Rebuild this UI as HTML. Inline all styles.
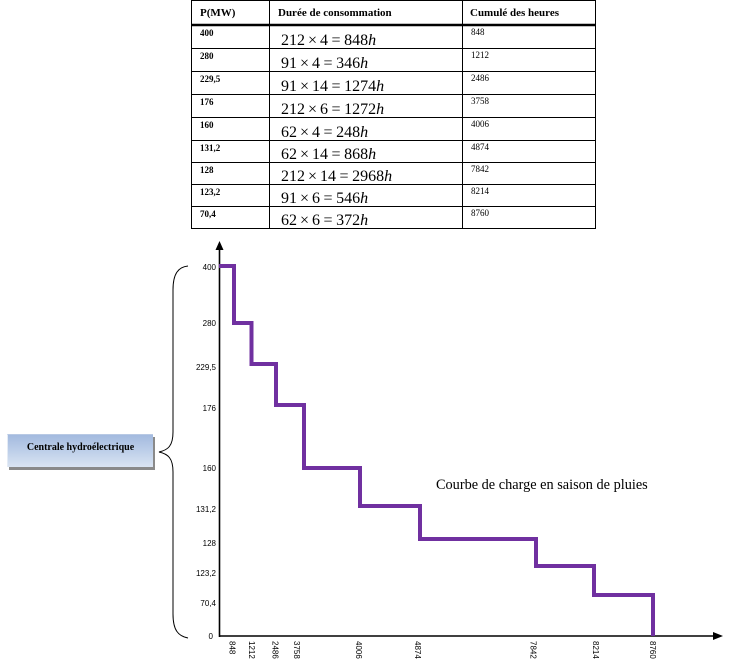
<!DOCTYPE html>
<html>
<head>
<meta charset="utf-8">
<style>
  html, body { margin:0; padding:0; background:#fff; }
  body { width:750px; height:669px; overflow:hidden; position:relative; }
  svg { position:absolute; left:0; top:0; }
  .box {
    position:absolute; left:7px; top:434px; width:146px; height:33px;
    background:linear-gradient(to bottom, #a3badf 0%, #c0d1ea 55%, #dae4f2 100%);
    border-left:1px solid #e4ebf5; border-top:1px solid #b8c9e4;
    box-shadow:2px 3px 0 #8a8a8a;
    box-sizing:border-box;
    font-family:"Liberation Serif", serif; font-weight:bold; font-size:10px;
    color:#000; text-align:center; line-height:10px; padding-top:8px;
  }
</style>
</head>
<body>
<svg width="750" height="669" viewBox="0 0 750 669" xmlns="http://www.w3.org/2000/svg">
  <!-- TABLE -->
  <g stroke="#000" fill="none">
    <rect x="191.5" y="0.5" width="404" height="228" stroke-width="1"/>
    <line x1="269.5" y1="0" x2="269.5" y2="228.5" stroke-width="1"/>
    <line x1="462.5" y1="0" x2="462.5" y2="228.5" stroke-width="1"/>
    <line x1="191" y1="25" x2="596" y2="25" stroke-width="2.5"/>
    <line x1="191" y1="48.5" x2="596" y2="48.5"/>
    <line x1="191" y1="71.5" x2="596" y2="71.5"/>
    <line x1="191" y1="94.5" x2="596" y2="94.5"/>
    <line x1="191" y1="117.5" x2="596" y2="117.5"/>
    <line x1="191" y1="140.5" x2="596" y2="140.5"/>
    <line x1="191" y1="162.5" x2="596" y2="162.5"/>
    <line x1="191" y1="184.5" x2="596" y2="184.5"/>
    <line x1="191" y1="206.5" x2="596" y2="206.5"/>
  </g>
  <g font-family="Liberation Serif, serif" font-weight="bold" font-size="11" fill="#000">
    <text x="200" y="16">P(MW)</text>
    <text x="278" y="16">Durée de consommation</text>
    <text x="470" y="16">Cumulé des heures</text>
  </g>
  <g font-family="Liberation Serif, serif" font-weight="bold" font-size="9" fill="#000">
    <text x="200" y="36">400</text>
    <text x="200" y="59">280</text>
    <text x="200" y="82">229,5</text>
    <text x="200" y="105">176</text>
    <text x="200" y="128">160</text>
    <text x="200" y="151">131,2</text>
    <text x="200" y="173">128</text>
    <text x="200" y="195">123,2</text>
    <text x="200" y="217">70,4</text>
  </g>
  <g font-family="Liberation Serif, serif" font-size="9" fill="#000">
    <text x="471" y="35">848</text>
    <text x="471" y="58">1212</text>
    <text x="471" y="81">2486</text>
    <text x="471" y="104">3758</text>
    <text x="471" y="127">4006</text>
    <text x="471" y="150">4874</text>
    <text x="471" y="172">7842</text>
    <text x="471" y="194">8214</text>
    <text x="471" y="216">8760</text>
  </g>
  <g font-family="Liberation Serif, serif" font-size="16" fill="#000">
    <text x="281" y="45">212<tspan dx="3">×</tspan><tspan dx="3">4</tspan><tspan dx="3.5">=</tspan><tspan dx="3.5">848</tspan><tspan font-style="italic">h</tspan></text>
    <text x="281" y="68">91<tspan dx="3">×</tspan><tspan dx="3">4</tspan><tspan dx="3.5">=</tspan><tspan dx="3.5">346</tspan><tspan font-style="italic">h</tspan></text>
    <text x="281" y="91">91<tspan dx="3">×</tspan><tspan dx="3">14</tspan><tspan dx="3.5">=</tspan><tspan dx="3.5">1274</tspan><tspan font-style="italic">h</tspan></text>
    <text x="281" y="114">212<tspan dx="3">×</tspan><tspan dx="3">6</tspan><tspan dx="3.5">=</tspan><tspan dx="3.5">1272</tspan><tspan font-style="italic">h</tspan></text>
    <text x="281" y="137">62<tspan dx="3">×</tspan><tspan dx="3">4</tspan><tspan dx="3.5">=</tspan><tspan dx="3.5">248</tspan><tspan font-style="italic">h</tspan></text>
    <text x="281" y="159">62<tspan dx="3">×</tspan><tspan dx="3">14</tspan><tspan dx="3.5">=</tspan><tspan dx="3.5">868</tspan><tspan font-style="italic">h</tspan></text>
    <text x="281" y="181">212<tspan dx="3">×</tspan><tspan dx="3">14</tspan><tspan dx="3.5">=</tspan><tspan dx="3.5">2968</tspan><tspan font-style="italic">h</tspan></text>
    <text x="281" y="203">91<tspan dx="3">×</tspan><tspan dx="3">6</tspan><tspan dx="3.5">=</tspan><tspan dx="3.5">546</tspan><tspan font-style="italic">h</tspan></text>
    <text x="281" y="225">62<tspan dx="3">×</tspan><tspan dx="3">6</tspan><tspan dx="3.5">=</tspan><tspan dx="3.5">372</tspan><tspan font-style="italic">h</tspan></text>
  </g>

  <!-- AXES -->
  <g stroke="#000" stroke-width="1.6" fill="none">
    <line x1="219.5" y1="637" x2="219.5" y2="247"/>
    <line x1="219" y1="636" x2="715" y2="636"/>
  </g>
  <polygon points="219.5,241 215.5,250 223.5,250" fill="#000"/>
  <polygon points="723,636 713,632 713,640" fill="#000"/>

  <!-- STEP CURVE -->
  <path d="M219,266 H234 V323 H251.5 V364 H276 V405 H304 V468 H360 V506 H420 V539 H536 V566 H594 V595 H653 V636"
        fill="none" stroke="#7030A0" stroke-width="4" stroke-linejoin="miter"/>

  <!-- Y LABELS -->
  <g font-family="Liberation Sans, sans-serif" font-size="8" fill="#000" text-anchor="end">
    <text x="216" y="270">400</text>
    <text x="216" y="326">280</text>
    <text x="216" y="370">229,5</text>
    <text x="216" y="411">176</text>
    <text x="216" y="471">160</text>
    <text x="216" y="512">131,2</text>
    <text x="216" y="546">128</text>
    <text x="216" y="576">123,2</text>
    <text x="216" y="606">70,4</text>
    <text x="213" y="639">0</text>
  </g>

  <!-- X LABELS (rotated) -->
  <g font-family="Liberation Sans, sans-serif" font-size="8" fill="#000">
    <text transform="translate(229.5,641) rotate(90)">848</text>
    <text transform="translate(249,641) rotate(90)">1212</text>
    <text transform="translate(272.5,641) rotate(90)">2486</text>
    <text transform="translate(294,641) rotate(90)">3758</text>
    <text transform="translate(356,641) rotate(90)">4006</text>
    <text transform="translate(415,641) rotate(90)">4874</text>
    <text transform="translate(530.5,641) rotate(90)">7842</text>
    <text transform="translate(593,641) rotate(90)">8214</text>
    <text transform="translate(650,641) rotate(90)">8760</text>
  </g>

  <!-- CURVE TITLE -->
  <text x="436" y="489" font-family="Liberation Serif, serif" font-size="14.3" fill="#000">Courbe de charge en saison de pluies</text>

  <!-- BRACE -->
  <path d="M188,266 C178,267 173,274 173,290 L173,432 C173,446 168,450 159,452 C168,454 173,458 173,472 L173,614 C173,630 178,636 188,638"
        fill="none" stroke="#000" stroke-width="1"/>
</svg>
<div class="box">Centrale hydroélectrique</div>
</body>
</html>
